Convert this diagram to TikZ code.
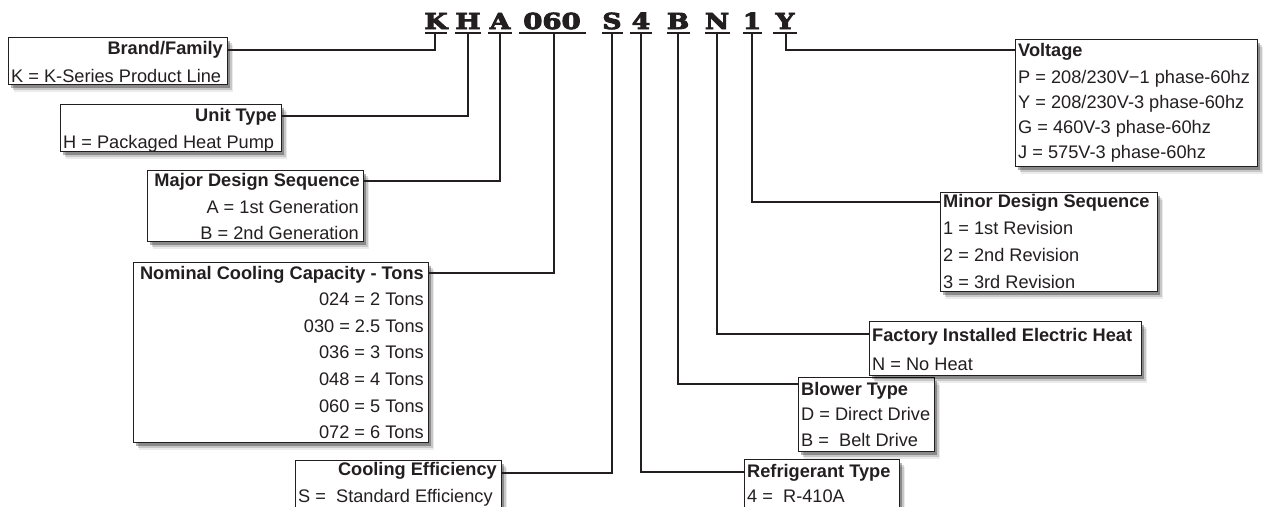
\documentclass[tikz,border=0pt]{standalone}
\usepackage{fontspec}
\setmainfont{Liberation Sans}
\newfontfamily\codefont[BoldFeatures={FakeBold=4}]{DejaVu Serif}
\usetikzlibrary{shadows}
\definecolor{ink}{RGB}{35,31,32}
\tikzset{
  box/.style={draw=ink, line width=1.1pt, fill=white, anchor=north west, inner sep=0pt,
    drop shadow={shadow xshift=5pt, shadow yshift=-7pt, opacity=0.08, fill=black},
    drop shadow={shadow xshift=4pt, shadow yshift=-5.5pt, opacity=0.15, fill=black},
    drop shadow={shadow xshift=2.5pt, shadow yshift=-3.5pt, opacity=0.3, fill=black}},
  txt/.style={inner sep=0pt, text=ink, font=\fontsize{18.2}{20}\selectfont},
  ttl/.style={inner sep=0pt, text=ink, font=\bfseries\fontsize{18.2}{20}\selectfont},
  code/.style={inner sep=0pt, anchor=base, text=ink, font=\codefont\bfseries\fontsize{22}{24}\selectfont},
  conn/.style={draw=ink, line width=2.1pt},
  uline/.style={draw=ink, line width=2.4pt},
}
\begin{document}
\begin{tikzpicture}[x=1pt, y=-1pt]
\clip (0,0) rectangle (1265,506);
\fill[white] (0,0) rectangle (1265,506);

% code letters
\node[code] (lK) at (436,29) {\scalebox{1.2}[1]{K}};
\node[code] (lH) at (468,29) {\scalebox{1.2}[1]{H}};
\node[code] (lA) at (500,29) {\scalebox{1.2}[1]{A}};
\node[code] (l060) at (552,29) {\scalebox{1.25}[1]{060}};
\node[code] (lS) at (612,29) {\scalebox{1.2}[1]{S}};
\node[code] (l4) at (641,29) {\scalebox{1.2}[1]{4}};
\node[code] (lB) at (678,29) {\scalebox{1.2}[1]{B}};
\node[code] (lN) at (717,29) {\scalebox{1.2}[1]{N}};
\node[code] (l1) at (752,29) {\scalebox{1.2}[1]{1}};
\node[code] (lY) at (785,29) {\scalebox{1.2}[1]{Y}};

% stem tops
\coordinate (uK) at (435,33);
\coordinate (uH) at (468,33);
\coordinate (uA) at (500,33);
\coordinate (u060) at (554,33);
\coordinate (uS) at (612,33);
\coordinate (u4) at (641,33);
\coordinate (uB) at (678,33);
\coordinate (uN) at (717,33);
\coordinate (u1) at (752,33);
\coordinate (uY) at (786,33);

% underlines
\draw[uline] (425,33) -- (447,33);
\draw[uline] (455,33) -- (481,33);
\draw[uline] (488,33) -- (512,33);
\draw[uline] (519,33) -- (586,33);
\draw[uline] (602,33) -- (623,33);
\draw[uline] (630,33) -- (652,33);
\draw[uline] (667,33) -- (690,33);
\draw[uline] (705,33) -- (730,33);
\draw[uline] (743,33) -- (762,33);
\draw[uline] (773,33) -- (797,33);

% boxes
\node[box, minimum width=219pt, minimum height=47pt] (brand) at (8,37) {};
\node[box, minimum width=221pt, minimum height=47pt] (unit) at (60,104) {};
\node[box, minimum width=216pt, minimum height=71pt] (major) at (147,170) {};
\node[box, minimum width=295pt, minimum height=180pt] (nominal) at (133,262) {};
\node[box, minimum width=206pt, minimum height=70pt] (cooling) at (295,460) {};
\node[box, minimum width=155pt, minimum height=70pt] (refrig) at (744,459) {};
\node[box, minimum width=136pt, minimum height=74pt] (blower) at (798,377) {};
\node[box, minimum width=272pt, minimum height=54pt] (factory) at (869,321) {};
\node[box, minimum width=217pt, minimum height=99pt] (minor) at (940,192) {};
\node[box, minimum width=242pt, minimum height=127pt] (voltage) at (1015,39) {};

% connectors
\draw[conn] (brand.east |- 0,50) -| (uK);
\draw[conn] (unit.east |- 0,116) -| (uH);
\draw[conn] (major.east |- 0,181) -| (uA);
\draw[conn] (nominal.east |- 0,273) -| (u060);
\draw[conn] (cooling.east |- 0,473) -| (uS);
\draw[conn] (refrig.west |- 0,472) -| (u4);
\draw[conn] (blower.west |- 0,384) -| (uB);
\draw[conn] (factory.west |- 0,334) -| (uN);
\draw[conn] (minor.west |- 0,202) -| (u1);
\draw[conn] (voltage.west |- 0,50) -| (uY);

% texts: Brand
\node[ttl, anchor=base east] (brandT) at (223,54) {Brand/Family};
\node[txt, anchor=base west] (brand1) at (11,82) {K = K-Series Product Line};
% Unit
\node[ttl, anchor=base east] (unitT) at (277,121) {Unit Type};
\node[txt, anchor=base west] (unit1) at (63,148) {H = Packaged Heat Pump};
% Major
\node[ttl, anchor=base east] (majorT) at (360,186) {Major Design Sequence};
\node[txt, anchor=base east] (major1) at (359,213) {A = 1st Generation};
\node[txt, anchor=base east] (major2) at (359,239) {B = 2nd Generation};
% Nominal
\node[ttl, anchor=base east] (nomT) at (424,279) {Nominal Cooling Capacity - Tons};
\node[txt, anchor=base east] (nom1) at (424,305) {024 = 2 Tons};
\node[txt, anchor=base east] (nom2) at (424,332) {030 = 2.5 Tons};
\node[txt, anchor=base east] (nom3) at (424,358) {036 = 3 Tons};
\node[txt, anchor=base east] (nom4) at (424,385) {048 = 4 Tons};
\node[txt, anchor=base east] (nom5) at (424,412) {060 = 5 Tons};
\node[txt, anchor=base east] (nom6) at (424,438) {072 = 6 Tons};
% Cooling
\node[ttl, anchor=base east] (coolT) at (497,475) {Cooling Efficiency};
\node[txt, anchor=base west] (cool1) at (298,502) {S = \ Standard Efficiency};
% Refrigerant
\node[ttl, anchor=base west] (refT) at (747,477) {Refrigerant Type};
\node[txt, anchor=base west] (ref1) at (747,502) {4 = \ R-410A};
% Blower
\node[ttl, anchor=base west] (blowT) at (801,395) {Blower Type};
\node[txt, anchor=base west] (blow1) at (801,420) {D = Direct Drive};
\node[txt, anchor=base west] (blow2) at (801,446) {B = \ Belt Drive};
% Factory
\node[ttl, anchor=base west] (facT) at (872,341) {Factory Installed Electric Heat};
\node[txt, anchor=base west] (fac1) at (872,370) {N = No Heat};
% Minor
\node[ttl, anchor=base west] (minT) at (943,207) {Minor Design Sequence};
\node[txt, anchor=base west] (min1) at (943,234) {1 = 1st Revision};
\node[txt, anchor=base west] (min2) at (943,261) {2 = 2nd Revision};
\node[txt, anchor=base west] (min3) at (943,288) {3 = 3rd Revision};
% Voltage
\node[ttl, anchor=base west] (volT) at (1018,56) {Voltage};
\node[txt, anchor=base west] (vol1) at (1018,83) {P = 208/230V−1 phase-60hz};
\node[txt, anchor=base west] (vol2) at (1018,108) {Y = 208/230V-3 phase-60hz};
\node[txt, anchor=base west] (vol3) at (1018,133) {G = 460V-3 phase-60hz};
\node[txt, anchor=base west] (vol4) at (1018,158) {J = 575V-3 phase-60hz};
\end{tikzpicture}
\end{document}
